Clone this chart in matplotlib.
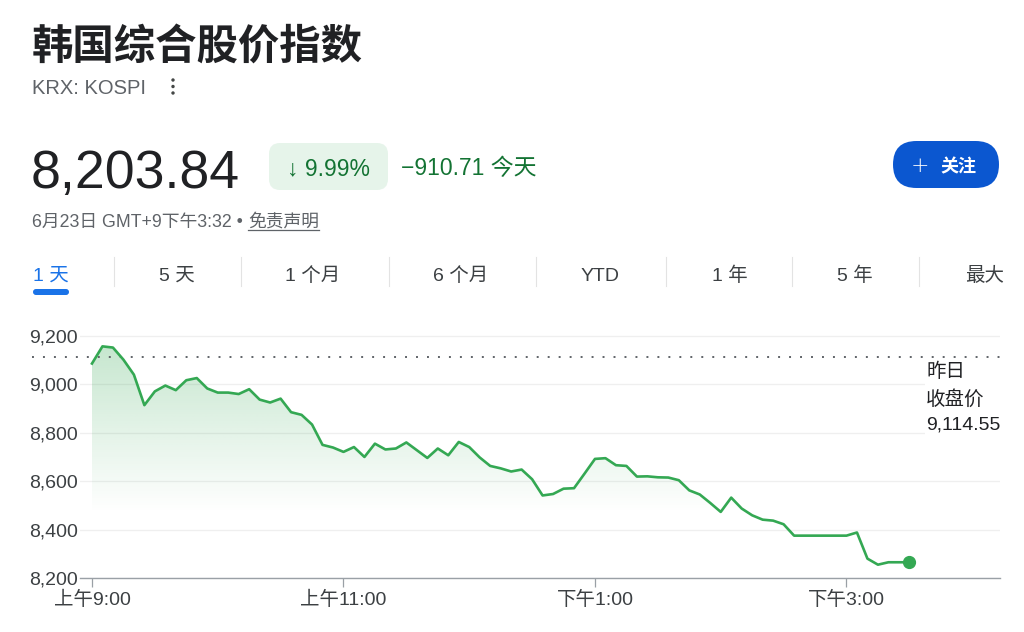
import matplotlib
matplotlib.use("Agg")
import matplotlib.pyplot as plt
import matplotlib.dates as mdates
from matplotlib.patches import FancyBboxPatch, Rectangle, Circle
from matplotlib.transforms import blended_transform_factory
import numpy as np
import pandas as pd

# ---------------- data ----------------
title = "韩国综合股价指数"
ticker = "KRX: KOSPI"
price_text = "8,203.84"
change_pct_text = "↓ 9.99%"
change_abs_text = "−910.71 今天"
date_text = "6月23日 GMT+9下午3:32 • "
disclaimer_text = "免责声明"
follow_text = "关注"
tabs = ["1 天", "5 天", "1 个月", "6 个月", "YTD", "1 年", "5 年", "最大"]
prev_close = 9114.55
prev_close_label = ["昨日", "收盘价", "9,114.55"]

values = [
    9086, 9157, 9152, 9102, 9040, 8914, 8971, 8995, 8976, 9017,
    9026, 8983, 8966, 8966, 8960, 8980, 8937, 8925, 8941, 8885,
    8874, 8834, 8750, 8739, 8721, 8741, 8700, 8755, 8731, 8735,
    8760, 8728, 8696, 8735, 8707, 8762, 8741, 8698, 8663, 8653,
    8640, 8648, 8608, 8541, 8547, 8569, 8571, 8631, 8692, 8695,
    8666, 8663, 8619, 8620, 8616, 8615, 8604, 8562, 8545, 8510,
    8473, 8532, 8487, 8459, 8441, 8437, 8422, 8375, 8375, 8375,
    8375, 8375, 8375, 8388, 8280, 8255, 8265, 8265, 8265,
]
times = pd.date_range("2025-06-23 09:00", "2025-06-23 15:30", freq="5min")
yticks = [8200, 8400, 8600, 8800, 9000, 9200]
xtick_times = ["2025-06-23 09:00", "2025-06-23 11:00", "2025-06-23 13:00", "2025-06-23 15:00"]
xtick_labels = ["上午9:00", "上午11:00", "下午1:00", "下午3:00"]
x_range = ("2025-06-23 08:54:17", "2025-06-23 16:13:15")
y_range = (8200, 9270)

# ---------------- style ----------------
plt.rcParams['font.family'] = ['Liberation Sans', 'Noto Sans CJK SC', 'DejaVu Sans']
plt.rcParams['lines.scale_dashes'] = False
GREEN = '#34a853'
DARK = '#202124'
GRAY = '#5f6368'
TXT = '#3c4043'
GTEXT = '#137333'
BLUE = '#0b57d0'

fig = plt.figure(figsize=(10.24, 6.32), dpi=100)
fig.patch.set_facecolor('white')

# pixel overlay axes (header)
bg = fig.add_axes([0, 0, 1, 1])
bg.set_xlim(0, 1024)
bg.set_ylim(632, 0)
bg.axis('off')

bg.text(32, 59, title, fontsize=29.8, fontweight='bold', color=DARK,
        family=['Noto Sans CJK SC'], va='baseline', ha='left')
bg.text(32, 94, ticker, fontsize=14.5, color=GRAY, va='baseline', ha='left')
for cy in (80, 86.5, 93):
    bg.add_patch(Circle((173, cy), 1.7, color='#444746', lw=0))

bg.text(31, 188, price_text, fontsize=38.6, color=DARK, va='baseline', ha='left')
bg.add_patch(FancyBboxPatch((269, 143), 119, 47,
                            boxstyle="round,pad=0,rounding_size=11",
                            facecolor='#e6f4ea', edgecolor='none'))
bg.text(328.5, 175, change_pct_text, fontsize=16.5, color=GTEXT,
        va='baseline', ha='center',
        family=['Liberation Sans', 'DejaVu Sans'])
bg.text(401, 175, change_abs_text, fontsize=16.5, color=GTEXT,
        va='baseline', ha='left')

t_date = bg.text(32, 227, date_text, fontsize=12.8, color=GRAY,
                 va='baseline', ha='left')
t_disc = bg.text(248, 227, disclaimer_text, fontsize=12.8, color=GRAY,
                 va='baseline', ha='left')
fig.canvas.draw()
r = fig.canvas.get_renderer()
bb = t_disc.get_window_extent(r)
inv = bg.transData.inverted()
(x0d, _), (x1d, _) = inv.transform([(bb.x0, bb.y0), (bb.x1, bb.y0)])
bg.plot([x0d, x1d], [230, 230], color=GRAY, lw=0.9)

# follow button
bg.add_patch(FancyBboxPatch((893, 141), 106, 47,
                            boxstyle="round,pad=0,rounding_size=23.5",
                            facecolor=BLUE, edgecolor='none'))
bg.text(920, 172, "+", fontsize=16, color='white', va='baseline', ha='center',
        family=['DejaVu Sans'], fontweight='light')
bg.text(940, 172, follow_text, fontsize=13, color='white', fontweight='bold',
        va='baseline', ha='left', family=['Noto Sans CJK SC'])

# tabs
tab_centers = [51, 177, 313, 461, 600, 730, 855, 985]
seps = [114, 241, 389, 536, 666, 792, 919]
for i, (lab, cx) in enumerate(zip(tabs, tab_centers)):
    bg.text(cx, 281, lab, fontsize=14, color=('#1a73e8' if i == 0 else TXT),
            va='baseline', ha='center')
for sx in seps:
    bg.plot([sx, sx], [257, 286], color='#e3e3e3', lw=0.8)
bg.add_patch(FancyBboxPatch((33, 289), 36, 6,
                            boxstyle="round,pad=0,rounding_size=3",
                            facecolor='#1a73e8', edgecolor='none'))

# ---------------- chart ----------------
ax = fig.add_axes([80 / 1024, 54 / 632, 920 / 1024, 259 / 632])
ax.set_facecolor('none')
x = mdates.date2num(times.to_pydatetime())
y = np.array(values, dtype=float)

xl = mdates.date2num(pd.to_datetime(list(x_range)).to_pydatetime())

# gradient fill under the line
ny = 300
yy = np.linspace(y_range[0], y_range[1], ny)
alpha = np.clip((yy - 8470) / (9160 - 8470), 0, 1) * 0.28
img = np.zeros((ny, 2, 4))
img[..., 0] = 52 / 255
img[..., 1] = 168 / 255
img[..., 2] = 83 / 255
img[..., 3] = alpha[:, None]
im = ax.imshow(img, extent=[x[0], x[-1], y_range[0], y_range[1]],
               origin='lower', aspect='auto', interpolation='bilinear', zorder=1)
poly = ax.fill_between(x, y, y_range[0], facecolor='none', edgecolor='none')
im.set_clip_path(poly.get_paths()[0], transform=ax.transData)

ax.plot(x, y, color=GREEN, lw=1.9, solid_joinstyle='round', zorder=4)
ax.plot(x[-1], y[-1], 'o', color=GREEN, ms=8.5, zorder=5)

ax.set_xlim(xl[0], xl[1])
ax.set_ylim(*y_range)

ax.set_yticks(yticks)
ax.set_yticklabels([f"{v:,}" for v in yticks])
xt = mdates.date2num(pd.to_datetime(xtick_times).to_pydatetime())
ax.set_xticks(xt)
ax.set_xticklabels(xtick_labels)
ax.tick_params(axis='y', length=0, pad=1.5, labelsize=14, labelcolor=TXT)
ax.tick_params(axis='x', length=6.5, width=0.9, color='#9aa0a6', pad=3,
               labelsize=14, labelcolor=TXT, direction='out')
ax.yaxis.grid(True, color='#efefef', lw=0.9, zorder=0)
ax.set_axisbelow(True)
for s in ('top', 'right', 'left'):
    ax.spines[s].set_visible(False)
ax.spines['bottom'].set_color('#9aa0a6')
ax.spines['bottom'].set_linewidth(1.0)

# previous close dotted line spanning from the left text edge
tr = blended_transform_factory(fig.transFigure, ax.transData)
ax.plot([32 / 1024, 1000 / 1024], [prev_close, prev_close], transform=tr,
        clip_on=False, color=GRAY, lw=1.4, linestyle=(0, (1.4, 6.5)), zorder=3)

# prev close label with white box
ax.add_patch(Rectangle((925, 360), 80, 76, transform=bg.transData,
                       facecolor='white', edgecolor='none', clip_on=False, zorder=2))
for lab, base in zip(prev_close_label, [377, 405, 429]):
    ax.text(926, base, lab, transform=bg.transData, fontsize=14, color=DARK,
            va='baseline', ha='left', zorder=6, clip_on=False)

fig.savefig("out.png", dpi=100, facecolor='white')
